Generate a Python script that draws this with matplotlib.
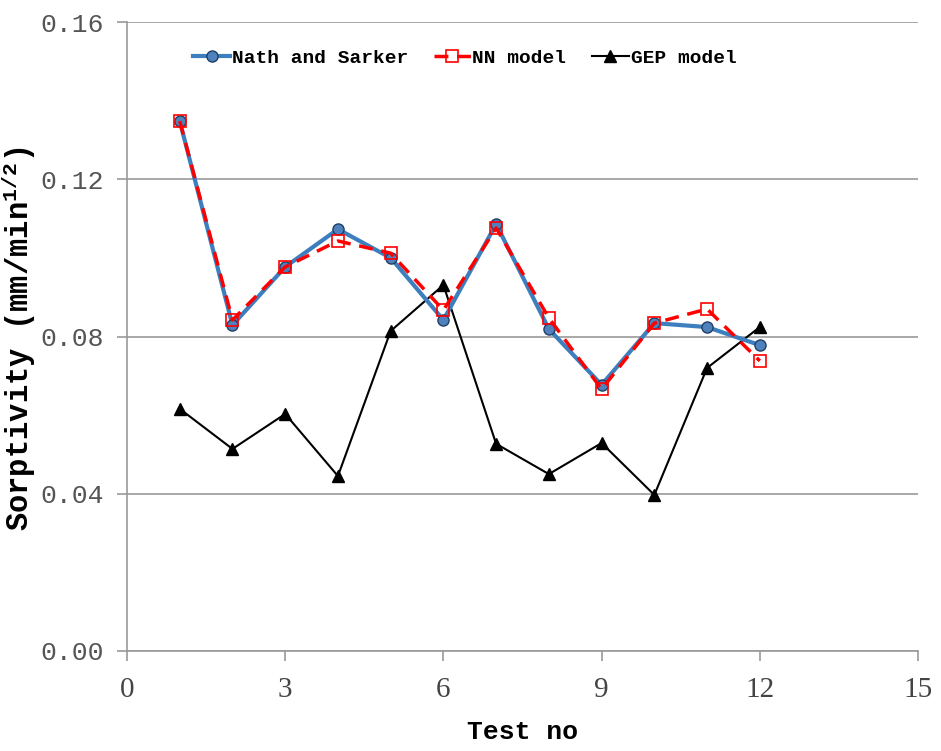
import matplotlib
matplotlib.use("Agg")
import matplotlib.pyplot as plt

plt.rcParams['mathtext.fontset'] = 'custom'
plt.rcParams['mathtext.rm'] = 'Liberation Mono:bold'
plt.rcParams['mathtext.bf'] = 'Liberation Mono:bold'
plt.rcParams['mathtext.it'] = 'Liberation Mono:bold'

test_no = [1, 2, 3, 4, 5, 6, 7, 8, 9, 10, 11, 12]
nath_sarker = [0.1348, 0.0829, 0.0977, 0.1073, 0.1000, 0.0842, 0.1086, 0.0819, 0.0677, 0.0834, 0.0824, 0.0778]
nn_model = [0.1348, 0.0842, 0.0977, 0.1043, 0.1012, 0.0867, 0.1076, 0.0847, 0.0666, 0.0834, 0.0870, 0.0738]
gep_model = [0.0616, 0.0514, 0.0603, 0.0445, 0.0814, 0.0931, 0.0527, 0.0450, 0.0529, 0.0397, 0.0720, 0.0824]

x_ticks = [0, 3, 6, 9, 12, 15]
y_ticks = [0.00, 0.04, 0.08, 0.12, 0.16]

fig = plt.figure(figsize=(9.41, 7.51), dpi=100)
ax = fig.add_axes([127 / 941, 1 - 651 / 751, (918 - 127) / 941, (651 - 22) / 751])

ax.plot(test_no, nath_sarker, color='#3d7ebf', lw=3, marker='o', ms=8,
        mfc='#4f81bd', mec='#1f3f66', label='Nath and Sarker', zorder=3)
ax.plot(test_no, nn_model, color='red', lw=2.5, ls=(0, (4, 2.5)), marker='s', ms=9,
        mfc='none', mec='red', mew=1.2, label='NN model', zorder=4)
ax.plot(test_no, gep_model, color='black', lw=1.5, marker='^', ms=9,
        label='GEP model', zorder=2)

ax.set_xlim(0, 15)
ax.set_ylim(0, 0.16)
ax.set_xticks(x_ticks)
ax.set_yticks(y_ticks)
ax.set_yticklabels([f"{v:.2f}" for v in y_ticks], family='Liberation Mono', fontsize=19, color='#555555')
ax.set_xticklabels([str(v) for v in x_ticks], family='Liberation Serif', fontsize=21, color='#444444')

ax.yaxis.grid(True, color='#999999', lw=1.2)
ax.set_axisbelow(True)
for s in ['top', 'right']:
    ax.spines[s].set_visible(False)
for s in ['left', 'bottom']:
    ax.spines[s].set_color('#999999')
    ax.spines[s].set_linewidth(1.2)
ax.tick_params(axis='both', direction='out', length=7, color='#999999', width=1.2)
ax.tick_params(axis='x', pad=12)
ax.tick_params(axis='y', pad=10)

ax.set_xlabel("Test no", family='Liberation Mono', fontweight='bold', fontsize=19, labelpad=12)
ax.set_ylabel("Sorptivity (mm/min$^{1/2}$)", family='Liberation Mono', fontweight='bold', fontsize=22)
ax.yaxis.set_label_coords(-0.112, 0.496)

leg = ax.legend(loc='upper center', bbox_to_anchor=(0.427, 0.985), ncol=3, frameon=False,
                prop={'family': 'Liberation Mono', 'weight': 'bold', 'size': 14},
                handlelength=1.9, handletextpad=0.1, columnspacing=1.3)

fig.savefig("out.png", dpi=100)
